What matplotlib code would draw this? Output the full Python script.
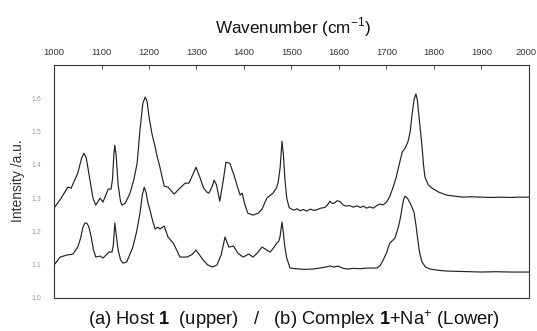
import matplotlib.pyplot as plt
import matplotlib.transforms as mtrans

plt.rcParams["font.family"] = ["Liberation Sans", "DejaVu Sans"]
plt.rcParams["mathtext.fontset"] = "custom"
plt.rcParams["mathtext.rm"] = "Liberation Sans"
plt.rcParams["mathtext.bf"] = "Liberation Sans:bold"

# upper trace: host 1
wn_host = [1000, 1015, 1029, 1036, 1050, 1058, 1063, 1068, 1075, 1082, 1088, 1097, 1103, 1114,
           1120, 1123, 1126, 1128, 1131, 1135, 1140, 1143, 1150, 1160, 1168, 1175, 1181, 1187,
           1192, 1196, 1200, 1206, 1213, 1218, 1223, 1232, 1240, 1253, 1265, 1276, 1284, 1292,
           1299, 1307, 1315, 1322, 1326, 1333, 1337, 1342, 1349, 1356, 1362, 1370, 1379, 1386,
           1392, 1396, 1402, 1408, 1419, 1430, 1438, 1448, 1461, 1468, 1472, 1476, 1480, 1483,
           1486, 1490, 1495, 1500, 1506, 1512, 1518, 1525, 1532, 1540, 1547, 1555, 1562, 1570,
           1576, 1581, 1586, 1590, 1596, 1602, 1608, 1615, 1622, 1630, 1638, 1645, 1651, 1658,
           1665, 1672, 1680, 1686, 1693, 1700, 1707, 1714, 1720, 1725, 1733, 1739, 1745, 1750,
           1754, 1758, 1762, 1765, 1768, 1772, 1775, 1778, 1781, 1788, 1796, 1810, 1827, 1845,
           1861, 1880, 1900, 1920, 1940, 1960, 1980, 2000]
int_host = [2.70, 3.00, 3.33, 3.30, 3.75, 4.20, 4.35, 4.20, 3.60, 3.00, 2.79, 3.00, 2.88, 3.27,
            3.27, 3.55, 4.30, 4.59, 4.25, 3.40, 2.90, 2.79, 2.85, 3.15, 3.55, 4.05, 5.05, 5.85,
            6.04, 5.90, 5.45, 4.95, 4.53, 4.20, 3.93, 3.36, 3.33, 3.12, 3.30, 3.45, 3.45, 3.70,
            3.93, 3.63, 3.30, 3.18, 3.15, 3.35, 3.54, 3.40, 2.91, 3.50, 4.08, 4.05, 3.69, 3.35,
            3.09, 3.15, 2.80, 2.55, 2.49, 2.55, 2.67, 3.00, 3.15, 3.30, 3.48, 3.90, 4.71, 4.30,
            3.60, 3.00, 2.72, 2.67, 2.64, 2.68, 2.62, 2.66, 2.61, 2.67, 2.63, 2.66, 2.70, 2.72,
            2.80, 2.91, 2.84, 2.85, 2.92, 2.90, 2.80, 2.76, 2.78, 2.73, 2.77, 2.72, 2.76, 2.70,
            2.74, 2.70, 2.78, 2.82, 2.80, 2.88, 3.05, 3.33, 3.60, 3.90, 4.38, 4.50, 4.68, 5.00,
            5.53, 5.95, 6.13, 5.95, 5.53, 4.95, 4.53, 4.00, 3.63, 3.40, 3.30, 3.18, 3.09, 3.06,
            3.03, 3.04, 3.03, 3.02, 3.03, 3.02, 3.03, 3.03]

# lower trace: complex 1+Na+
wn_cplx = [1000, 1013, 1027, 1040, 1050, 1056, 1061, 1065, 1069, 1073, 1078, 1083, 1088, 1097,
           1103, 1116, 1122, 1125, 1128, 1131, 1135, 1140, 1145, 1153, 1166, 1174, 1181, 1186,
           1190, 1194, 1198, 1202, 1208, 1213, 1219, 1223, 1232, 1240, 1251, 1258, 1265, 1280,
           1290, 1299, 1306, 1314, 1323, 1333, 1343, 1352, 1360, 1368, 1378, 1387, 1398, 1410,
           1419, 1428, 1438, 1447, 1455, 1462, 1469, 1473, 1476, 1480, 1483, 1486, 1490, 1497,
           1510, 1525, 1545, 1560, 1572, 1581, 1590, 1598, 1607, 1617, 1630, 1645, 1660, 1680,
           1687, 1693, 1700, 1707, 1718, 1725, 1730, 1733, 1736, 1739, 1744, 1750, 1758, 1762,
           1766, 1770, 1775, 1782, 1792, 1810, 1827, 1850, 1875, 1900, 1930, 1960, 2000]
int_cplx = [0.99, 1.23, 1.29, 1.32, 1.53, 1.80, 2.13, 2.25, 2.25, 2.15, 1.85, 1.45, 1.23, 1.26,
            1.20, 1.38, 1.38, 1.60, 2.25, 1.90, 1.44, 1.15, 1.05, 1.08, 1.53, 2.00, 2.55, 3.10,
            3.33, 3.15, 2.85, 2.64, 2.30, 2.07, 2.13, 2.07, 2.16, 1.83, 1.65, 1.45, 1.23, 1.23,
            1.30, 1.44, 1.30, 1.14, 1.00, 0.93, 0.99, 1.30, 1.83, 1.53, 1.56, 1.35, 1.23, 1.32,
            1.23, 1.35, 1.53, 1.45, 1.38, 1.50, 1.65, 1.70, 1.85, 2.28, 1.95, 1.53, 1.20, 0.90,
            0.88, 0.86, 0.87, 0.90, 0.93, 0.96, 0.93, 0.96, 0.90, 0.87, 0.89, 0.88, 0.90, 0.90,
            0.98, 1.14, 1.35, 1.65, 1.80, 2.13, 2.45, 2.73, 2.95, 3.06, 3.00, 2.85, 2.58, 2.20,
            1.74, 1.35, 1.08, 0.93, 0.87, 0.83, 0.81, 0.80, 0.79, 0.78, 0.79, 0.78, 0.78]

x_ticks = [1000, 1100, 1200, 1300, 1400, 1500, 1600, 1700, 1800, 1900, 2000]
y_ticks = [0, 1, 2, 3, 4, 5, 6, 7]
y_labels = ["1.0", "1.1", "1.2", "1.3", "1.4", "1.5", "1.6", ""]

fig = plt.figure(figsize=(5.37, 3.31), dpi=100)
ax = fig.add_axes([0.1006, 0.0997, 0.8844, 0.7039])

ax.plot(wn_host, int_host, color="#222222", lw=0.85)
ax.plot(wn_cplx, int_cplx, color="#222222", lw=0.85)

ax.set_xlim(1000, 2000)
ax.set_ylim(0, 7)
ax.xaxis.tick_top()
ax.set_xticks(x_ticks)
ax.set_xticklabels([str(t) for t in x_ticks])
ax.tick_params(axis="x", direction="in", length=3, width=0.6, labelsize=6.8, pad=6, colors="#333333")
ax.set_yticks(y_ticks)
ax.set_yticklabels(y_labels)
ax.tick_params(axis="y", length=0, labelsize=5, pad=9, labelcolor="#999999")
for s in ax.spines.values():
    s.set_linewidth(0.8)
    s.set_color("#333333")

# last top label sits on the figure edge, pull it in a touch
last = ax.get_xticklabels()[-1]
last.set_transform(last.get_transform() + mtrans.ScaledTranslation(-3 / 100, 0, fig.dpi_scale_trans))

fig.text(0.545, 0.918, "Wavenumber (cm$^{-1}$)", ha="center", va="center", fontsize=12.3, color="#111111")
fig.text(0.034, 0.453, "Intensity /a.u.", rotation=90, ha="center", va="center", fontsize=10, color="#333333")
fig.text(0.547, 0.035, r"(a) Host $\mathbf{1}$  (upper)   /   (b) Complex $\mathbf{1}$+Na$^{+}$ (Lower)",
         ha="center", va="center", fontsize=13.2, color="#111111")

fig.savefig("out.png", dpi=100)
